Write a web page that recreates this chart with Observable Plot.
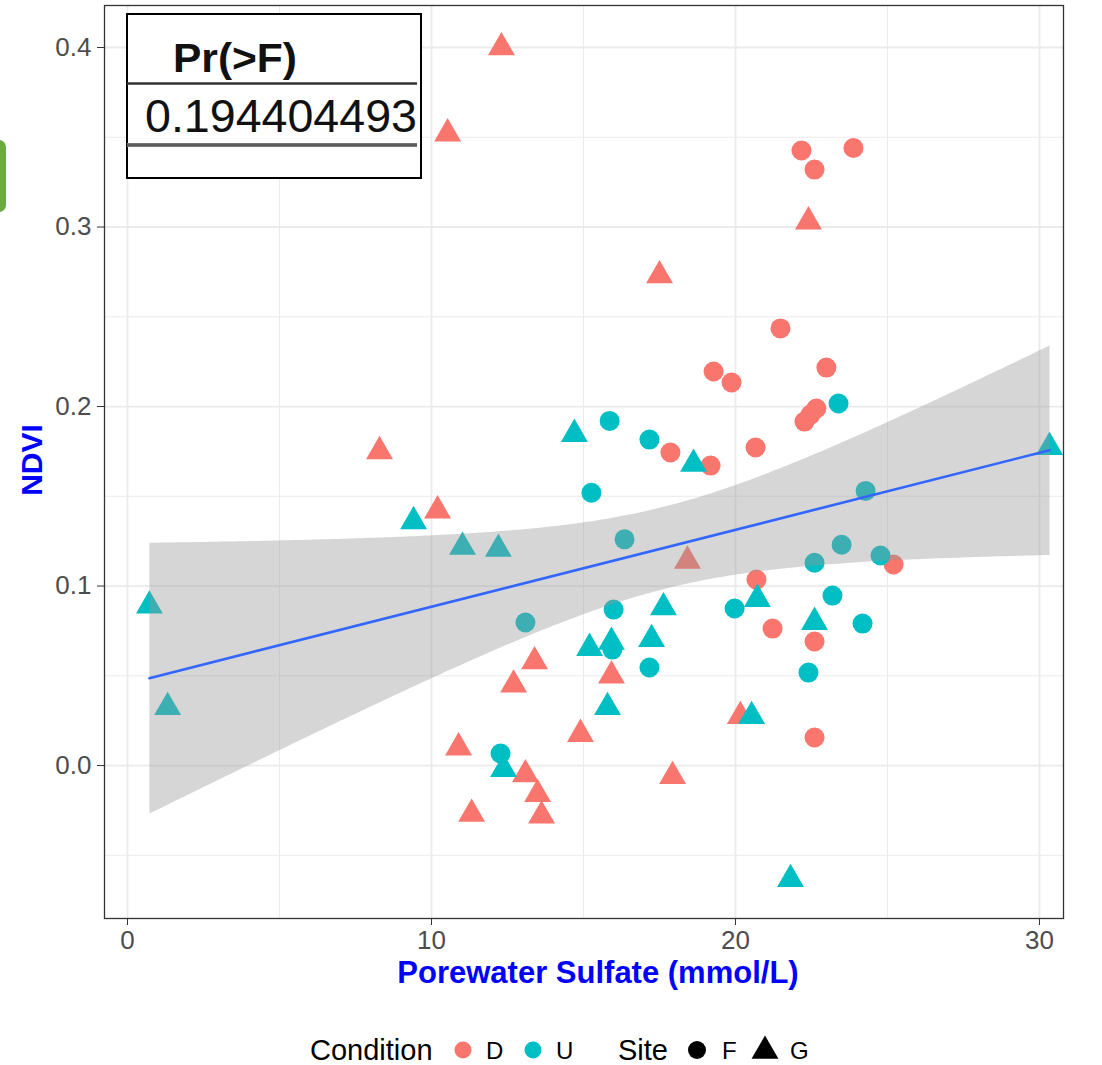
<!DOCTYPE html>
<html>
<head>
<meta charset="utf-8">
<script src="https://cdn.jsdelivr.net/npm/d3@7"></script>
<script src="https://cdn.jsdelivr.net/npm/@observablehq/plot@0.6"></script>
<style>
  body { margin: 0; background: #fff; font-family: "Liberation Sans", Arial, sans-serif; }
  #wrap { position: relative; width: 1102px; height: 1065px; overflow: hidden; background: #fff; }
  #chart { position: absolute; left: 0; top: 0; }
  .xlab { position: absolute; left: 398px; top: 955px; transform: translateX(-50%); white-space: nowrap;
          font-weight: bold; font-size: 31px; color: #0000FF; }
  .ylab { position: absolute; left: 32px; top: 460px; transform: translate(-50%, -50%) rotate(-90deg);
          font-weight: bold; font-size: 30px; color: #0000FF; white-space: nowrap; }
  #legend { position: absolute; left: 0; top: 1025px; width: 1102px; height: 50px; }
  #inset { position: absolute; left: 0; top: 0; pointer-events: none; }
  #green { position: absolute; left: -10px; top: 140px; width: 16px; height: 72px;
           background: #6aaa40; border-radius: 7px; }
</style>
</head>
<body>
<div id="wrap">
  <div id="chart"></div>
  <div class="xlab" style="left:598px">Porewater Sulfate (mmol/L)</div>
  <div class="ylab">NDVI</div>
  <div id="green"></div>
</div>
<script>
// ---- Data (Porewater Sulfate vs NDVI) ----
// Condition D, Site G (triangles, salmon)
const dG_sulfate = [12.30, 10.53, 8.29, 10.20, 22.40, 17.50, 18.42, 13.39, 12.70, 10.89, 11.32, 13.09, 13.49, 13.62, 14.90, 15.92, 17.93, 20.16];
const dG_ndvi    = [0.400, 0.352, 0.175, 0.142, 0.303, 0.273, 0.114, 0.058, 0.045, 0.010, -0.027, -0.005, -0.016, -0.028, 0.0175, 0.050, -0.006, 0.0275];
// Condition D, Site F (circles, salmon)
const dF_sulfate = [22.17, 22.60, 23.88, 21.48, 19.28, 19.87, 22.99, 22.27, 22.47, 22.66, 17.86, 20.66, 19.18, 20.69, 21.22, 22.60, 22.60, 25.20];
const dF_ndvi    = [0.3426, 0.332, 0.344, 0.2435, 0.2195, 0.2134, 0.2217, 0.1916, 0.1955, 0.1989, 0.1744, 0.1772, 0.1671, 0.1036, 0.0763, 0.0691, 0.0156, 0.112];
// Condition U, Site F (circles, teal)
const uF_sulfate = [15.26, 15.86, 17.17, 23.39, 16.35, 24.28, 23.49, 22.60, 24.77, 15.99, 19.97, 23.19, 24.18, 15.95, 17.17, 22.40, 13.09, 12.27];
const uF_ndvi    = [0.152, 0.192, 0.1816, 0.2017, 0.126, 0.153, 0.123, 0.113, 0.117, 0.0869, 0.0875, 0.0947, 0.0791, 0.0646, 0.0546, 0.0518, 0.0797, 0.0067];
// Condition U, Site G (triangles, teal)
const uG_sulfate = [0.72, 1.32, 9.41, 11.02, 12.20, 12.37, 14.70, 18.62, 17.63, 15.20, 15.92, 17.24, 15.79, 20.72, 22.60, 20.53, 21.81, 30.33];
const uG_ndvi    = [0.089, 0.0325, 0.136, 0.1217, 0.1206, -0.002, 0.1846, 0.168, 0.088, 0.0654, 0.0688, 0.0704, 0.0325, 0.0927, 0.0799, 0.0275, -0.0633, 0.1774];

const conditions = ["D", "U"];
const conditionColors = ["#F8766D", "#00BFC4"];
const sites = ["F", "G"];
const siteSymbols = ["circle", "triangle"];
const xTicks = [0, 10, 20, 30];
const xMinor = [5, 15, 25];
const yTicks = [0.0, 0.1, 0.2, 0.3, 0.4];
const yMinor = [-0.05, 0.05, 0.15, 0.25, 0.35];
const anovaHeader = "Pr(>F)";
const anovaValue = "0.194404493";

const rows = [];
function addGroup(xs, ys, condition, site) {
  xs.forEach((x, i) => rows.push({ sulfate: x, ndvi: ys[i], condition, site }));
}
addGroup(dF_sulfate, dF_ndvi, "D", "F");
addGroup(dG_sulfate, dG_ndvi, "D", "G");
addGroup(uF_sulfate, uF_ndvi, "U", "F");
addGroup(uG_sulfate, uG_ndvi, "U", "G");

const gridColor = "#EBEBEB";
const chart = Plot.plot({
  width: 1102,
  height: 1000,
  marginLeft: 104,
  marginRight: 39,
  marginTop: 5,
  marginBottom: 82,
  style: { fontFamily: "'Liberation Sans', Arial, sans-serif", background: "#fff", overflow: "visible" },
  x: { domain: [-0.757, 30.79] },
  y: { domain: [-0.0852, 0.4234] },
  color: { domain: conditions, range: conditionColors },
  symbol: { domain: sites, range: siteSymbols },
  marks: [
    Plot.gridX(xMinor, { stroke: gridColor, strokeOpacity: 1, strokeWidth: 1 }),
    Plot.gridY(yMinor, { stroke: gridColor, strokeOpacity: 1, strokeWidth: 1 }),
    Plot.gridX(xTicks, { stroke: gridColor, strokeOpacity: 1, strokeWidth: 1.8 }),
    Plot.gridY(yTicks, { stroke: gridColor, strokeOpacity: 1, strokeWidth: 1.8 }),
    Plot.dot(rows, { x: "sulfate", y: "ndvi", fill: "condition", symbol: "site", r: 10, stroke: "none" }),
    Plot.linearRegressionY(rows, { x: "sulfate", y: "ndvi", stroke: "#3366FF", strokeWidth: 2.6,
                                   fill: "#999999", fillOpacity: 0.4, ci: 0.95 }),
    Plot.frame({ stroke: "#333333", strokeWidth: 1.3 }),
    Plot.axisX(xTicks, { tickSize: 7, tickPadding: 5, fontSize: 26, stroke: "#333333", fill: "#4D4D4D", label: null }),
    Plot.axisY(yTicks, { tickSize: 7, tickPadding: 6, fontSize: 26, stroke: "#333333", fill: "#4D4D4D",
                         tickFormat: d3.format(".1f"), label: null })
  ]
});
document.getElementById("chart").appendChild(chart);

// ---- ANOVA inset table (top-left) ----
const NS = "http://www.w3.org/2000/svg";
const inset = document.createElementNS(NS, "svg");
inset.setAttribute("id", "inset");
inset.setAttribute("width", 1102);
inset.setAttribute("height", 200);
inset.innerHTML = `
  <rect x="127" y="14" width="294" height="164" fill="#fff" stroke="#000" stroke-width="2"/>
  <text x="173" y="72" font-family="'Liberation Sans', Arial, sans-serif" font-weight="bold" font-size="40"
        textLength="124" lengthAdjust="spacingAndGlyphs" fill="#111">${anovaHeader}</text>
  <line x1="127" x2="417" y1="83.5" y2="83.5" stroke="#333" stroke-width="2.5"/>
  <text x="145" y="132" font-family="'Liberation Sans', Arial, sans-serif" font-size="46"
        textLength="272" lengthAdjust="spacingAndGlyphs" fill="#111">${anovaValue}</text>
  <line x1="127" x2="417" y1="145" y2="145" stroke="#777" stroke-width="4"/>
  <line x1="127" x2="417" y1="145" y2="145" stroke="#555" stroke-width="1.5"/>
`;
document.getElementById("wrap").appendChild(inset);

// ---- Bottom legend ----
const legend = document.createElementNS(NS, "svg");
legend.setAttribute("id", "legend");
legend.setAttribute("width", 1102);
legend.setAttribute("height", 50);
const lg = d3.select(legend);
const cy = 25;
const font = "'Liberation Sans', Arial, sans-serif";
lg.append("text").attr("x", 310).attr("y", cy + 10).attr("font-family", font).attr("font-size", 29).attr("fill", "#000").text("Condition");
conditions.forEach((c, i) => {
  const cx = 463 + i * 70;
  lg.append("circle").attr("cx", cx).attr("cy", cy).attr("r", 8.5).attr("fill", conditionColors[i]);
  lg.append("text").attr("x", cx + 23).attr("y", cy + 9).attr("font-family", font).attr("font-size", 24).attr("fill", "#000").text(c);
});
lg.append("text").attr("x", 618).attr("y", cy + 10).attr("font-family", font).attr("font-size", 29).attr("fill", "#000").text("Site");
sites.forEach((s, i) => {
  const cx = 697 + i * 68;
  const sym = siteSymbols[i] === "circle" ? d3.symbolCircle : d3.symbolTriangle;
  const size = siteSymbols[i] === "circle" ? Math.PI * 9 * 9 : Math.PI * 10 * 10;
  lg.append("path").attr("transform", `translate(${cx},${cy + (i ? 1 : 0)})`).attr("d", d3.symbol(sym, size)()).attr("fill", "#000");
  lg.append("text").attr("x", cx + 25).attr("y", cy + 9).attr("font-family", font).attr("font-size", 24).attr("fill", "#000").text(s);
});
document.getElementById("wrap").appendChild(legend);
</script>
</body>
</html>
